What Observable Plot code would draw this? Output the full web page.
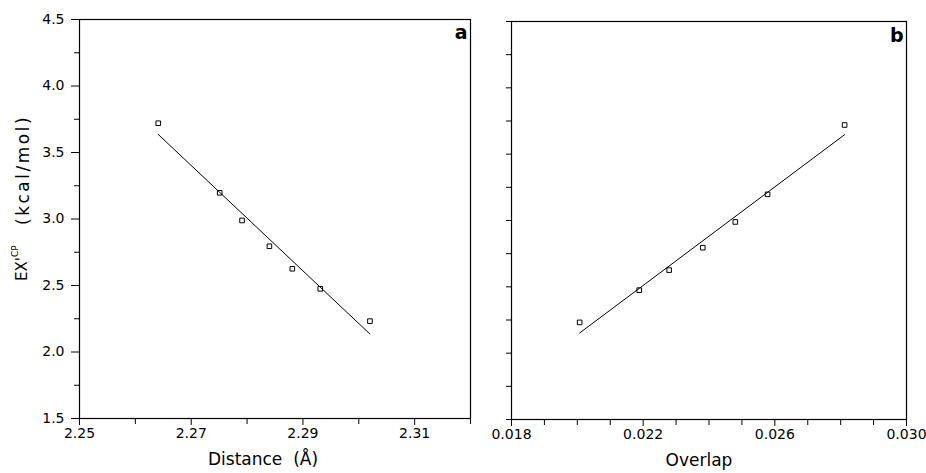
<!DOCTYPE html>
<html>
<head>
<meta charset="utf-8">
<script src="https://cdn.jsdelivr.net/npm/d3@7"></script>
<script src="https://cdn.jsdelivr.net/npm/@observablehq/plot@0.6"></script>
<style>
  body { margin: 0; background: #fff; }
  #wrap { display: flex; width: 926px; height: 473px; }
</style>
</head>
<body>
<div id="wrap"></div>
<script>
// Data (same EX'CP values in both panels)
const exchange = [3.72, 3.197, 2.989, 2.795, 2.626, 2.475, 2.232];
const distance = [2.2641, 2.2751, 2.2791, 2.2840, 2.2881, 2.2931, 2.3020];
const overlap  = [0.02812, 0.02578, 0.02480, 0.02381, 0.02279, 0.02188, 0.02007];

// Tick values
const yMajor = [1.5, 2.0, 2.5, 3.0, 3.5, 4.0, 4.5];
const yMinor = [1.75, 2.25, 2.75, 3.25, 3.75, 4.25];
const xMajorA = [2.25, 2.27, 2.29, 2.31];
const xMinorA = [2.26, 2.28, 2.30, 2.32];
const xMajorB = [0.018, 0.022, 0.026, 0.030];
const xMinorB = [0.019, 0.020, 0.021, 0.023, 0.024, 0.025, 0.027, 0.028, 0.029];

const ptsA = distance.map((d, i) => ({x: d, y: exchange[i]}));
const ptsB = overlap.map((d, i) => ({x: d, y: exchange[i]}));

const font = "DejaVu Sans, sans-serif";
const baseStyle = {fontFamily: font, fontSize: "14px", color: "black", background: "white", overflow: "visible"};

const chartA = Plot.plot({
  width: 480, height: 473,
  marginLeft: 79, marginRight: 10, marginTop: 19, marginBottom: 55,
  style: baseStyle,
  x: {domain: [2.25, 2.32]},
  y: {domain: [1.5, 4.5]},
  marks: [
    Plot.frame({stroke: "black", strokeWidth: 1.2}),
    Plot.axisY({ticks: yMinor, tickSize: 5, tickFormat: () => "", label: null}),
    Plot.axisY({ticks: yMajor, tickSize: 8, tickPadding: 7, tickFormat: d3.format(".1f"), label: null}),
    Plot.axisX({ticks: xMinorA, tickSize: 6, tickFormat: () => "", label: null}),
    Plot.axisX({ticks: xMajorA, tickSize: 7, tickPadding: 3, tickFormat: d3.format(".2f"), label: null}),
    Plot.linearRegressionY(ptsA, {x: "x", y: "y", ci: 0, stroke: "black", strokeWidth: 1}),
    Plot.dot(ptsA, {x: "x", y: "y", symbol: "square", r: 2.6, stroke: "black", fill: "none", strokeWidth: 1}),
    Plot.text(["a"], {frameAnchor: "top-right", dx: -3, dy: 6, textAnchor: "end", lineAnchor: "top", fontWeight: "bold", fontSize: 19}),
    Plot.text(["Distance\u00a0\u00a0(Å)"], {frameAnchor: "bottom", dx: -12, dy: 46, fontSize: 17}),
    Plot.text(["EX'"], {frameAnchor: "left", dx: -57, dy: 62, rotate: -90, textAnchor: "start", fontSize: 15}),
    Plot.text(["CP"], {frameAnchor: "left", dx: -64, dy: 38, rotate: -90, textAnchor: "start", fontSize: 9}),
    Plot.text(["(kcal/mol)"], {frameAnchor: "left", dx: -56, dy: 6, rotate: -90, textAnchor: "start", fontSize: 17})
  ]
});

const chartB = Plot.plot({
  width: 446, height: 473,
  marginLeft: 31, marginRight: 20, marginTop: 21, marginBottom: 54,
  style: baseStyle,
  x: {domain: [0.018, 0.030]},
  y: {domain: [1.5, 4.5]},
  marks: [
    Plot.frame({stroke: "black", strokeWidth: 1.2}),
    Plot.axisY({ticks: yMinor.concat(yMajor), tickSize: 5, tickFormat: () => "", label: null}),
    Plot.axisX({ticks: xMinorB, tickSize: 6, tickFormat: () => "", label: null}),
    Plot.axisX({ticks: xMajorB, tickSize: 7, tickPadding: 3, tickFormat: d3.format(".3f"), label: null}),
    Plot.linearRegressionY(ptsB, {x: "x", y: "y", ci: 0, stroke: "black", strokeWidth: 1}),
    Plot.dot(ptsB, {x: "x", y: "y", symbol: "square", r: 2.6, stroke: "black", fill: "none", strokeWidth: 1}),
    Plot.text(["b"], {frameAnchor: "top-right", dx: -3, dy: 7, textAnchor: "end", lineAnchor: "top", fontWeight: "bold", fontSize: 19}),
    Plot.text(["Overlap"], {frameAnchor: "bottom", dx: -10, dy: 46, fontSize: 17})
  ]
});

// widen the spacing of the y label as in the original typesetting
d3.select(chartA).selectAll("text").filter(function() { return this.textContent === "(kcal/mol)"; })
  .attr("letter-spacing", "2.5px");

document.getElementById("wrap").append(chartA, chartB);
</script>
</body>
</html>
